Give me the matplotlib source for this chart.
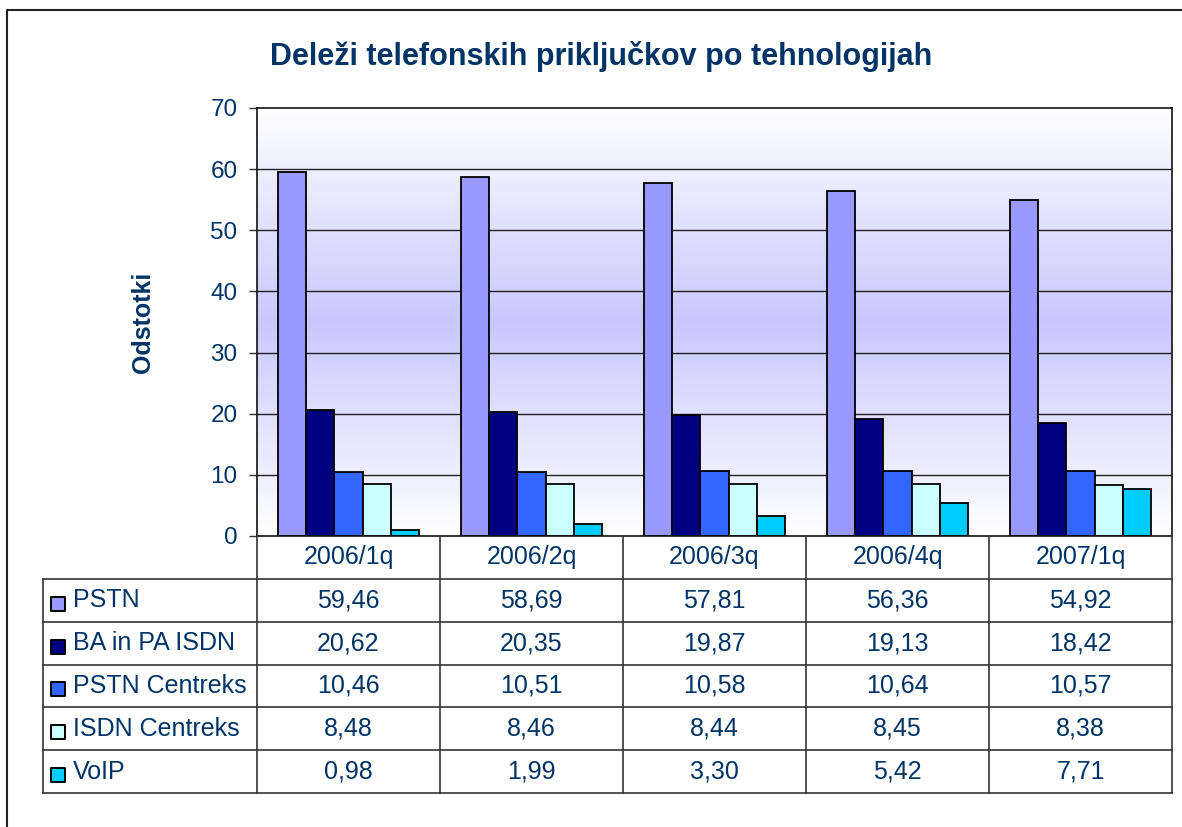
import matplotlib
matplotlib.use("Agg")
import matplotlib.pyplot as plt
import numpy as np
from matplotlib.colors import LinearSegmentedColormap

categories = ["2006/1q", "2006/2q", "2006/3q", "2006/4q", "2007/1q"]
series_names = ["PSTN", "BA in PA ISDN", "PSTN Centreks", "ISDN Centreks", "VoIP"]
pstn = [59.46, 58.69, 57.81, 56.36, 54.92]
ba_pa_isdn = [20.62, 20.35, 19.87, 19.13, 18.42]
pstn_centreks = [10.46, 10.51, 10.58, 10.64, 10.57]
isdn_centreks = [8.48, 8.46, 8.44, 8.45, 8.38]
voip = [0.98, 1.99, 3.30, 5.42, 7.71]
series_values = [pstn, ba_pa_isdn, pstn_centreks, isdn_centreks, voip]
series_colors = ["#9999FF", "#000080", "#3366FF", "#CCFFFF", "#00CCFF"]
y_ticks = [0, 10, 20, 30, 40, 50, 60, 70]

title = "Deleži telefonskih priključkov po tehnologijah"
ylabel = "Odstotki"

plt.rcParams['font.family'] = ['Liberation Sans', 'DejaVu Sans']
txt_color = "#003366"

W, H = 1182, 827
fig = plt.figure(figsize=(W / 100, H / 100), dpi=100)

def px_rect(l, t, r, b):
    return [l / W, 1 - b / H, (r - l) / W, (b - t) / H]

# outer frame
frame = fig.add_axes([0, 0, 1, 1])
frame.set_xlim(0, W)
frame.set_ylim(H, 0)
frame.axis("off")
frame.plot([7, 7, W + 5], [H + 5, 10, 10], color="#222222", lw=1.5)

PL, PT, PR, PB = 257, 108, 1172, 536
ax = fig.add_axes(px_rect(PL, PT, PR, PB))
ncat = len(categories)
ax.set_xlim(-0.5, ncat - 0.5)
ax.set_ylim(0, 70)

# gradient background
cmap = LinearSegmentedColormap.from_list("g", [(0, "#FFFFFF"), (0.5, "#C8C8FF"), (1, "#FFFFFF")])
grad = np.linspace(0, 1, 256).reshape(-1, 1)
ax.imshow(grad, extent=(-0.5, ncat - 0.5, 0, 70), origin="lower", aspect="auto",
          cmap=cmap, zorder=0)

for yv in y_ticks[1:-1]:
    ax.axhline(yv, color="#222222", lw=1.0, zorder=1)

nser = len(series_values)
bw = 1 / (nser + 1.5)
x = np.arange(ncat)
for i, (vals, col) in enumerate(zip(series_values, series_colors)):
    ax.bar(x + (i - (nser - 1) / 2) * bw, vals, width=bw, color=col,
           edgecolor="black", linewidth=1.3, zorder=2)

for s in ax.spines.values():
    s.set_color("#111111")
    s.set_linewidth(1.2)
ax.set_xticks([])
ax.set_yticks(y_ticks)
ax.tick_params(axis="y", direction="out", length=6, width=1, color="#333333",
               labelsize=17.5, labelcolor=txt_color, pad=8)
ax.set_ylabel(ylabel, fontsize=18, fontweight="bold", color=txt_color, labelpad=40)

fig.text(601 / W, 1 - 56 / H, title, ha="center", va="center",
         fontsize=22, fontweight="bold", color=txt_color)

# data table
TL, TB = 43, 793
leg_w = (PL - TL) / ((PR - PL) / ncat)
tax = fig.add_axes(px_rect(TL, PB, PR, TB))
tax.set_xlim(-0.5 - leg_w, ncat - 0.5)
tax.set_ylim(nser + 1, 0)
tax.axis("off")
lc = "#333333"
for r in range(1, nser + 2):
    tax.plot([-0.5 - leg_w, ncat - 0.5], [r, r], color=lc, lw=1.2, clip_on=False)
for c in range(ncat + 1):
    tax.plot([c - 0.5, c - 0.5], [0, nser + 1], color=lc, lw=1.2, clip_on=False)
tax.plot([-0.5 - leg_w] * 2, [1, nser + 1], color=lc, lw=1.2, clip_on=False)

fs = 18
for j, cat in enumerate(categories):
    tax.text(j, 0.5, cat, ha="center", va="center", fontsize=fs, color=txt_color)

cell_px = (PR - PL) / ncat
for i, (name, vals, col) in enumerate(zip(series_names, series_values, series_colors)):
    ry = i + 1.5
    sq_x = -0.5 - leg_w + 15 / cell_px
    tax.scatter([sq_x], [ry + 0.08], marker="s", s=110, color=col, edgecolor="black",
                linewidth=1.4, clip_on=False, zorder=3)
    tax.text(-0.5 - leg_w + 30 / cell_px, ry, name, ha="left", va="center",
             fontsize=fs, color=txt_color)
    for j, v in enumerate(vals):
        tax.text(j, ry, f"{v:.2f}".replace(".", ","), ha="center", va="center",
                 fontsize=fs, color=txt_color)

fig.savefig("out.png", dpi=100)
